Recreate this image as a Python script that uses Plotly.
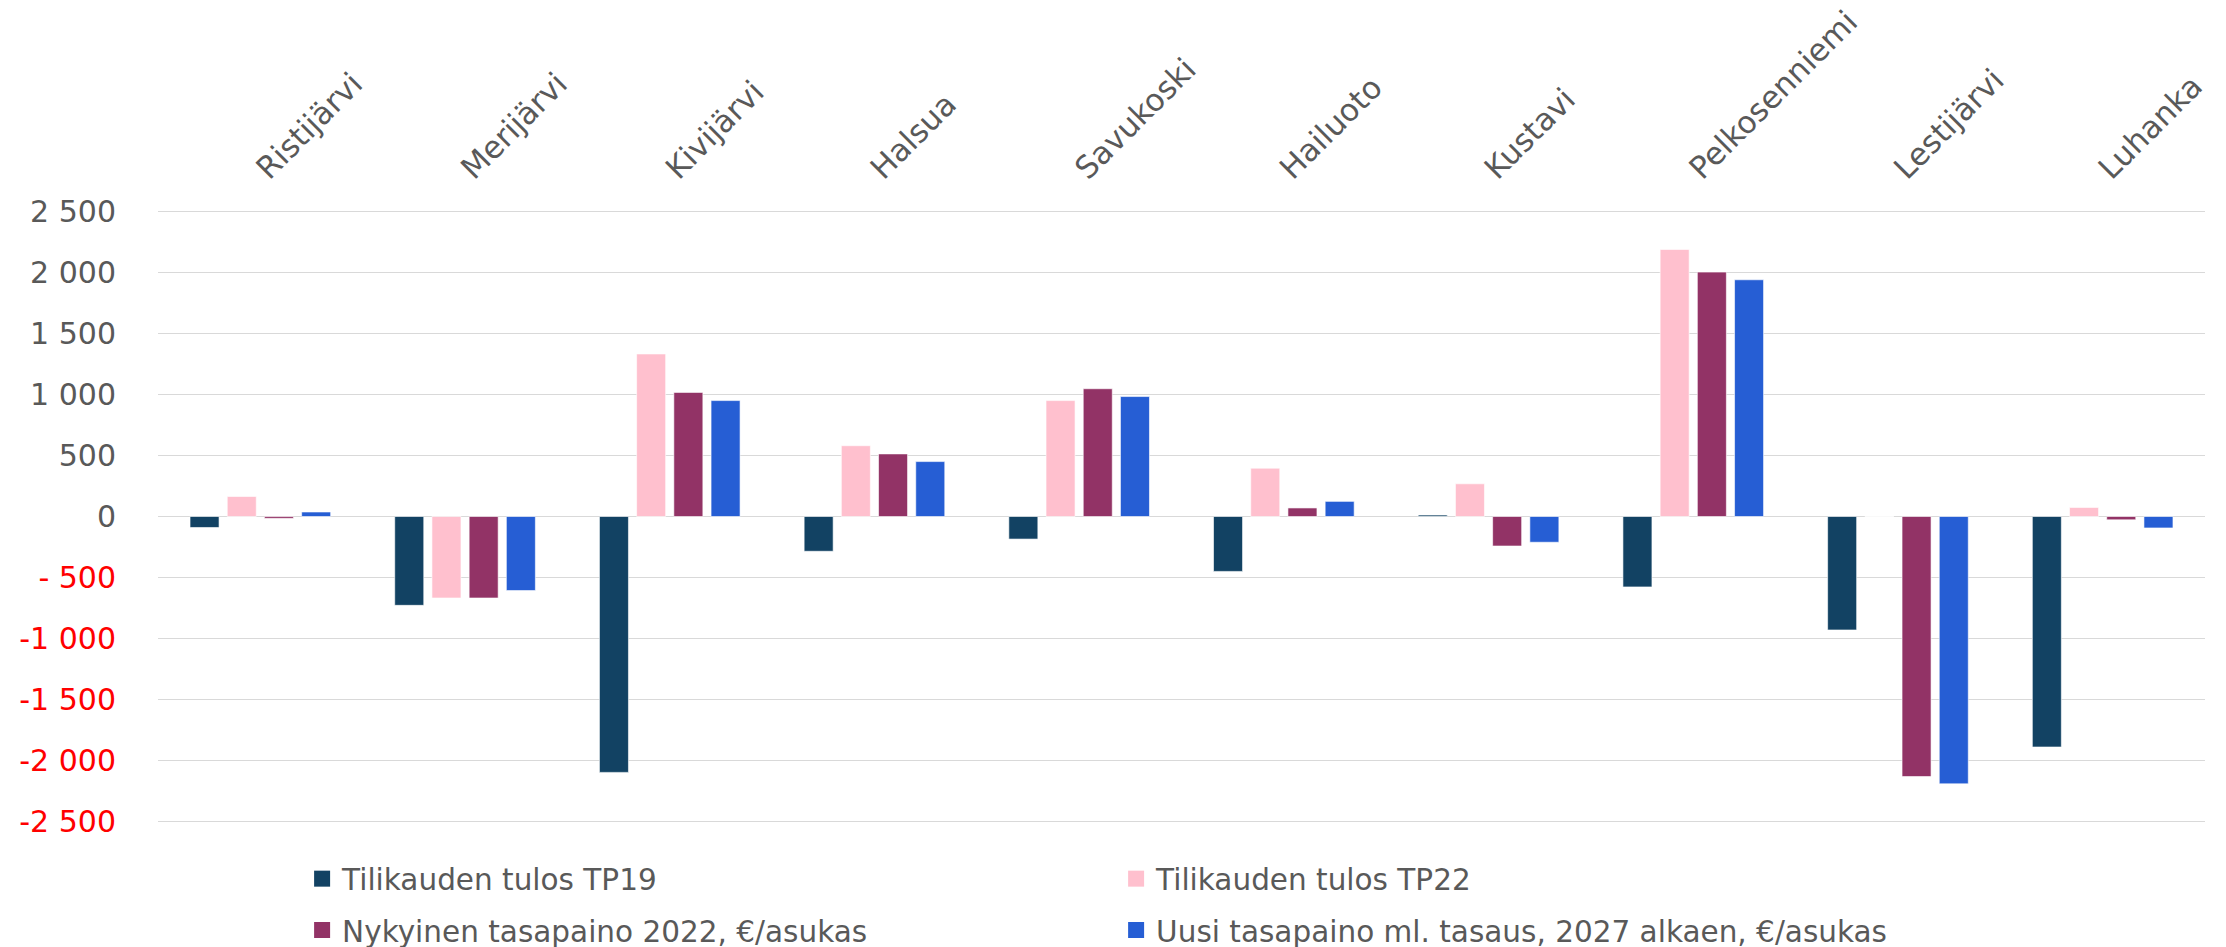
import plotly.graph_objects as go

categories = ["Ristijärvi", "Merijärvi", "Kivijärvi", "Halsua", "Savukoski",
              "Hailuoto", "Kustavi", "Pelkosenniemi", "Lestijärvi", "Luhanka"]

tp19 = [-90, -728, -2097, -285, -185, -450, 12, -577, -930, -1889]
tp22 = [164, -668, 1332, 580, 950, 396, 268, 2188, 0, 74]
nykyinen = [-15, -668, 1017, 513, 1047, 70, -242, 2003, -2131, -27]
uusi = [37, -607, 950, 450, 983, 124, -211, 1940, -2191, -94]

series_names = ["Tilikauden tulos TP19", "Tilikauden tulos TP22",
                "Nykyinen tasapaino 2022, €/asukas",
                "Uusi tasapaino ml. tasaus, 2027 alkaen, €/asukas"]
series_colors = ["#124263", "#FFC0CE", "#923366", "#265ED4"]

tick_vals = [2500, 2000, 1500, 1000, 500, 0, -500, -1000, -1500, -2000, -2500]
tick_labels = ["2 500", "2 000", "1 500", "1 000", "500", "0",
               "- 500", "-1 000", "-1 500", "-2 000", "-2 500"]

FONT = "DejaVu Sans"
GREY = "#595959"

fig = go.Figure()
legend_ids = ["legend", "legend", "legend2", "legend2"]
for name, vals, col, lg in zip(series_names, [tp19, tp22, nykyinen, uusi],
                               series_colors, legend_ids):
    fig.add_trace(go.Bar(
        x=categories, y=vals, name=name, showlegend=False,
        marker=dict(color=col, line=dict(color="rgba(255,255,255,0.6)", width=1)),
    ))
    # legend entry with a larger square swatch
    fig.add_trace(go.Scatter(
        x=[None], y=[None], name=name, mode="markers", legend=lg,
        marker=dict(color=col, symbol="square", size=16),
        showlegend=True, hoverinfo="skip",
    ))

ticktext = [
    (f"<span style='color:#FF0000'>{t}</span>" if v < 0 else t)
    for v, t in zip(tick_vals, tick_labels)
]

# the page body adds an 8 px offset, so the figure is 8 px smaller than the window
fig.update_layout(
    width=2218, height=939,
    margin=dict(l=150.4, r=21, t=201, b=123, autoexpand=False),
    paper_bgcolor="white", plot_bgcolor="white",
    barmode="group", bargap=0.273, bargroupgap=0.22,
    font=dict(family=FONT, color=GREY, size=30),
    xaxis=dict(
        side="top", tickangle=-45, showgrid=False, showline=False,
        range=[-0.5, 9.5],
        ticks="outside", ticklen=10, tickcolor="rgba(0,0,0,0)",
        ticklabelshift=-2,
        tickfont=dict(family=FONT, size=31, color=GREY),
    ),
    yaxis=dict(
        range=[-2520, 2520], tickvals=tick_vals, ticktext=ticktext,
        showgrid=True, gridcolor="#D9D9D9", gridwidth=1.3,
        zeroline=True, zerolinecolor="#D9D9D9", zerolinewidth=1.3,
        showline=False, ticks="outside", ticklen=35, tickcolor="rgba(0,0,0,0)",
        tickfont=dict(family=FONT, size=30, color=GREY),
    ),
    legend=dict(
        orientation="h", x=0.0704, xanchor="left", y=-0.0894, yanchor="middle",
        entrywidth=769, entrywidthmode="pixels",
        font=dict(family=FONT, size=29.5, color=GREY), bgcolor="rgba(0,0,0,0)",
    ),
    legend2=dict(
        orientation="h", x=0.0704, xanchor="left", y=-0.1730, yanchor="middle",
        entrywidth=769, entrywidthmode="pixels",
        font=dict(family=FONT, size=29.5, color=GREY), bgcolor="rgba(0,0,0,0)",
    ),
    showlegend=True,
)

fig.write_html("out.html")
